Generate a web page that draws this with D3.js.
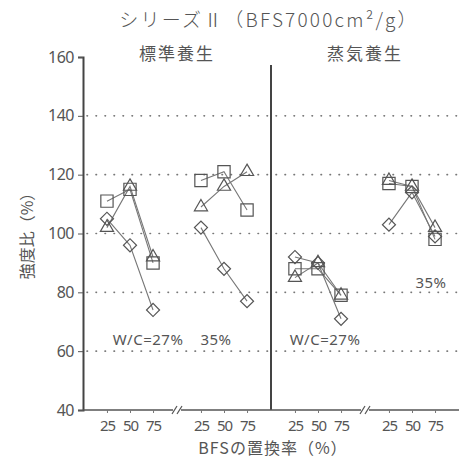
<!DOCTYPE html>
<head>
  <meta charset="utf-8">
  <script src="https://d3js.org/d3.v7.min.js"></script>
  <style>
    body { margin: 0; background: #fff; }
    text { font-family: "Noto Sans CJK JP", "Noto Sans", sans-serif; fill: #555; }
  </style>
</head>
<body>
<div id="chart"></div>
<script>

// categories
var curing = ["標準養生", "蒸気養生"];
var wcRatios = ["27", "35"];
var replacement = [25, 50, 75];
var yTicks = [40, 60, 80, 100, 120, 140, 160];
var gridValues = [60, 80, 100, 120, 140];

// 強度比 (%) for each marker, per curing / W/C, at 25, 50, 75 %
var stdSquare27 = [111, 115, 90];
var stdTri27 = [102, 116, 92];
var stdDia27 = [105, 96, 74];
var stdSquare35 = [118, 121, 108];
var stdTri35 = [109, 116, 121];
var stdDia35 = [102, 88, 77];
var steamSquare27 = [88, 88, 79];
var steamTri27 = [85, 90, 79];
var steamDia27 = [92, 90, 71];
var steamSquare35 = [117, 116, 98];
var steamTri35 = [118, 116, 102];
var steamDia35 = [103, 114, 99];

var series = [
  {cure: "標準養生", wc: "27", mark: "square", values: stdSquare27},
  {cure: "標準養生", wc: "27", mark: "triangle", values: stdTri27},
  {cure: "標準養生", wc: "27", mark: "diamond", values: stdDia27},
  {cure: "標準養生", wc: "35", mark: "square", values: stdSquare35},
  {cure: "標準養生", wc: "35", mark: "triangle", values: stdTri35},
  {cure: "標準養生", wc: "35", mark: "diamond", values: stdDia35},
  {cure: "蒸気養生", wc: "27", mark: "square", values: steamSquare27},
  {cure: "蒸気養生", wc: "27", mark: "triangle", values: steamTri27},
  {cure: "蒸気養生", wc: "27", mark: "diamond", values: steamDia27},
  {cure: "蒸気養生", wc: "35", mark: "square", values: steamSquare35},
  {cure: "蒸気養生", wc: "35", mark: "triangle", values: steamTri35},
  {cure: "蒸気養生", wc: "35", mark: "diamond", values: steamDia35}
];

var W = 461, H = 462;
var margin = {left: 83, right: 459, top: 57, bottom: 410};

var svg = d3.select("#chart").append("svg")
  .attr("width", W).attr("height", H);

var y = d3.scaleLinear().domain([40, 160]).range([margin.bottom, margin.top]);
var xCure = d3.scaleBand().domain(curing).range([margin.left, margin.right]);
var xWc = d3.scaleBand().domain(wcRatios).range([0, xCure.bandwidth()]);
var xRep = d3.scalePoint().domain(replacement).range([0, xWc.bandwidth()]).padding(1.04);

function xPos(cure, wc, r) { return xCure(cure) + xWc(wc) + xRep(r); }

// dotted grid
svg.append("g").selectAll("line")
  .data(gridValues).enter().append("line")
    .attr("x1", margin.left + 4).attr("x2", W)
    .attr("y1", function(d) { return y(d); })
    .attr("y2", function(d) { return y(d); })
    .style("stroke", "#777")
    .style("stroke-width", 1.6)
    .style("stroke-linecap", "round")
    .style("stroke-dasharray", "0.5,8.5");

// y axis
var yAxis = svg.append("g")
  .attr("transform", "translate(" + margin.left + ",0)")
  .call(d3.axisLeft(y).tickValues(yTicks).tickSize(5).tickPadding(4));
yAxis.select(".domain").style("stroke", "#444").style("stroke-width", 2);
yAxis.selectAll(".tick line").style("stroke", "#555");
yAxis.selectAll(".tick text").style("font-size", "16px").style("font-family", "'Noto Sans', sans-serif").style("letter-spacing", "-0.5px").style("fill", "#555");

// divider between curing types
svg.append("line")
  .attr("x1", xCure("蒸気養生")).attr("x2", xCure("蒸気養生"))
  .attr("y1", margin.top + 8).attr("y2", margin.bottom)
  .style("stroke", "#444").style("stroke-width", 2);

// bottom axis with break marks
svg.append("line")
  .attr("x1", margin.left).attr("x2", margin.right)
  .attr("y1", margin.bottom).attr("y2", margin.bottom)
  .style("stroke", "#555").style("stroke-width", 1.5);

curing.forEach(function(c) {
  var bx = xCure(c) + xWc("35");
  svg.append("rect").attr("x", bx - 4).attr("y", margin.bottom - 3).attr("width", 8).attr("height", 6).style("fill", "#fff");
  [-2.5, 2.5].forEach(function(o) {
    svg.append("line")
      .attr("x1", bx + o - 2.5).attr("x2", bx + o + 2.5)
      .attr("y1", margin.bottom + 4).attr("y2", margin.bottom - 4)
      .style("stroke", "#555").style("stroke-width", 1.2);
  });
});

// x tick labels
curing.forEach(function(c) {
  wcRatios.forEach(function(w) {
    var g = svg.append("g")
      .attr("transform", "translate(" + (xCure(c) + xWc(w)) + "," + margin.bottom + ")")
      .call(d3.axisBottom(xRep).tickSize(3).tickPadding(7));
    g.select(".domain").remove();
    g.selectAll(".tick line").style("stroke", "#777");
    g.selectAll(".tick text").style("font-size", "15px").style("font-family", "'Noto Sans', sans-serif").style("letter-spacing", "-1px").style("fill", "#555");
  });
});

// lines
var line = d3.line()
  .x(function(d) { return d.x; })
  .y(function(d) { return d.y; });

series.forEach(function(s) {
  var pts = s.values.map(function(v, i) {
    return {x: xPos(s.cure, s.wc, replacement[i]), y: y(v)};
  });
  svg.append("path")
    .datum(pts)
    .attr("d", line)
    .style("fill", "none")
    .style("stroke", "#777")
    .style("stroke-width", 1.1);
});

// markers
var symbols = {
  square: d3.symbol().type(d3.symbolSquare).size(150),
  triangle: d3.symbol().type(d3.symbolTriangle).size(75),
  diamond: d3.symbol().type(d3.symbolSquare).size(85)
};

series.forEach(function(s) {
  svg.append("g").selectAll("path")
    .data(s.values).enter().append("path")
      .attr("d", symbols[s.mark]())
      .attr("transform", function(v, i) {
        var t = "translate(" + xPos(s.cure, s.wc, replacement[i]) + "," + y(v) + ")";
        return s.mark == "diamond" ? t + " rotate(45)" : t;
      })
      .style("fill", "none")
      .style("stroke", "#555")
      .style("stroke-width", 1.2);
});

// titles
svg.append("text")
  .attr("x", 269).attr("y", 27)
  .attr("text-anchor", "middle")
  .style("font-size", "19px")
  .style("font-weight", "300")
  .style("letter-spacing", "2.2px")
  .text("シリーズⅡ（BFS7000cm²/g）");

curing.forEach(function(c) {
  svg.append("text")
    .attr("x", xCure(c) + xCure.bandwidth() / 2)
    .attr("y", 60)
    .attr("text-anchor", "middle")
    .style("font-size", "17px")
    .style("letter-spacing", "2px")
    .text(c);
});

// W/C annotations
var notes = [
  {cure: "標準養生", wc: "27", text: "W/C=27%", dx: 65, y: 62},
  {cure: "標準養生", wc: "35", text: "35%", dx: 39, y: 62},
  {cure: "蒸気養生", wc: "27", text: "W/C=27%", dx: 54, y: 62},
  {cure: "蒸気養生", wc: "35", text: "35%", dx: 66, y: 81.5}
];
svg.append("g").selectAll("text")
  .data(notes).enter().append("text")
    .attr("x", function(d) { return xCure(d.cure) + xWc(d.wc) + d.dx; })
    .attr("y", function(d) { return y(d.y); })
    .attr("text-anchor", "middle")
    .style("font-size", "15px")
    .style("font-family", "'Noto Sans', sans-serif")
    .style("letter-spacing", "0.5px")
    .text(function(d) { return d.text; });

// axis titles
svg.append("text")
  .attr("transform", "translate(33,232) rotate(-90)")
  .attr("text-anchor", "middle")
  .style("font-size", "16px")
  .text("強度比（%）");

svg.append("text")
  .attr("x", 273).attr("y", 454)
  .attr("text-anchor", "middle")
  .style("font-size", "16px")
  .style("letter-spacing", "1px")
  .text("BFSの置換率（%）");

</script>
</body>
